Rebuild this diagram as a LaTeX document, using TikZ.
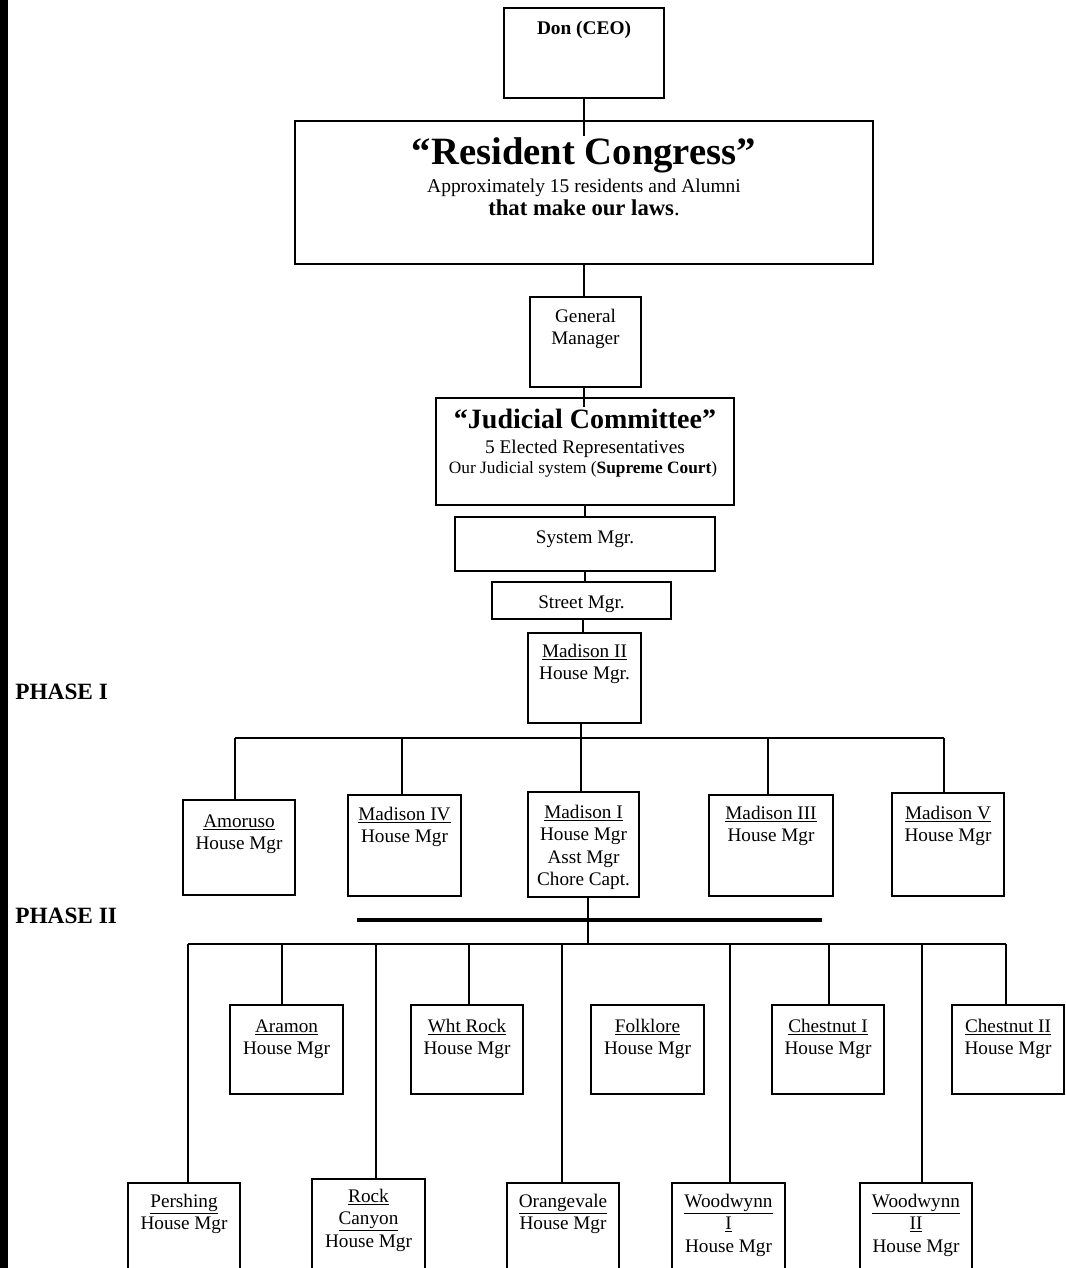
\documentclass[tikz,border=0pt]{standalone}
\usepackage{fontspec}
\setmainfont{Liberation Serif}
\newdimen\pxu \pxu=0.75pt
\newcommand\bx[4]{\parbox[c][#2\pxu][t]{#1\pxu}{\centering\fontsize{14.4pt}{16.9pt}\selectfont\rule{0pt}{#3\pxu}#4}}
\begin{document}
\begin{tikzpicture}[x=0.75pt,y=-0.75pt,
  box/.style={draw, line width=1.1pt, inner sep=0pt, outer sep=0pt, anchor=north west},
  conn/.style={line width=0.8pt},
  thickbar/.style={line width=3pt},
  lbl/.style={inner sep=0pt, anchor=base},
  phase/.style={inner sep=0pt, anchor=base west, font=\fontsize{17.5pt}{20pt}\selectfont\bfseries}]
\useasboundingbox (0,0) rectangle (1065,1268);
\fill[black] (0,0) rectangle (8,1268);

% ---- top chain ----
\node[box, minimum width=120pt, minimum height=67.5pt] (don) at (504,8) {};
\node[lbl, font=\fontsize{14.5pt}{17pt}\selectfont\bfseries] (dont) at (584,34) {Don (CEO)};

\node[box, minimum width=433.5pt, minimum height=107.25pt] (congress) at (295,121) {};
\node[lbl, font=\fontsize{29pt}{33pt}\selectfont\bfseries] (congt) at (584,164) {“Resident Congress”};
\node[lbl, font=\fontsize{14.6pt}{17pt}\selectfont] (congs) at (584,192) {Approximately 15 residents and Alumni};
\node[lbl, font=\fontsize{17pt}{19pt}\selectfont] (congl) at (584,215) {\textbf{that make our laws}.};

\node[box] (gm) at (530,297) {\bx{111}{90}{25}{General\\Manager}};

\node[box, minimum width=223.5pt, minimum height=80.25pt] (judicial) at (436,398) {};
\node[lbl, font=\fontsize{21pt}{25pt}\selectfont\bfseries] (judt) at (585,428) {“Judicial Committee”};
\node[lbl, font=\fontsize{14.5pt}{17pt}\selectfont] (juds) at (585,453) {5 Elected Representatives};
\node[lbl, font=\fontsize{13pt}{15pt}\selectfont] (judl) at (583,473) {Our Judicial system (\textbf{Supreme Court})};

\node[box] (system) at (455,517) {\bx{260}{54}{26}{System Mgr.}};
\node[box] (street) at (492,582) {\bx{179}{37}{26}{Street Mgr.}};
\node[box] (madII) at (528,633) {\bx{113}{90}{24}{\underline{Madison II}\\House Mgr.}};

\node[phase] (ph1) at (15,699) {PHASE I};
\node[phase] (ph2) at (15,923) {PHASE II};

% ---- phase I ----
\node[box] (amoruso) at (183,800) {\bx{112}{95}{27}{\underline{Amoruso}\\House Mgr}};
\node[box] (madIV) at (348,795) {\bx{113}{101}{25}{\underline{Madison IV}\\House Mgr}};
\node[box] (madI) at (528,792) {\bx{111}{105}{26}{\underline{Madison I}\\House Mgr\\Asst Mgr\\Chore Capt.}};
\node[box] (madIII) at (709,795) {\bx{124}{101}{24}{\underline{Madison III}\\House Mgr}};
\node[box] (madV) at (892,793) {\bx{112}{103}{26}{\underline{Madison V}\\House Mgr}};

% ---- phase II upper ----
\node[box] (aramon) at (230,1005) {\bx{113}{89}{27}{\underline{Aramon}\\House Mgr}};
\node[box] (whtrock) at (411,1005) {\bx{112}{89}{27}{\underline{Wht Rock}\\House Mgr}};
\node[box] (folklore) at (591,1005) {\bx{113}{89}{27}{\underline{Folklore}\\House Mgr}};
\node[box] (chestI) at (772,1005) {\bx{112}{89}{27}{\underline{Chestnut I}\\House Mgr}};
\node[box] (chestII) at (952,1005) {\bx{112}{89}{27}{\underline{Chestnut II}\\House Mgr}};

% ---- phase II lower ----
\node[box] (pershing) at (128,1183) {\bx{112}{100}{24}{\underline{Pershing}\\House Mgr}};
\node[box] (rockc) at (312,1179) {\bx{113}{104}{23}{\underline{Rock}\\\underline{Canyon}\\House Mgr}};
\node[box] (orange) at (507,1183) {\bx{112}{100}{24}{\underline{Orangevale}\\House Mgr}};
\node[box] (woodI) at (672,1183) {\bx{113}{100}{24}{\underline{Woodwynn}\\\underline{I}\\House Mgr}};
\node[box] (woodII) at (860,1183) {\bx{112}{100}{24}{\underline{Woodwynn}\\\underline{II}\\House Mgr}};

% ---- connectors top ----
\coordinate (c0) at (584,136);
\coordinate (c1) at (584,407);
\draw[conn] (c0 |- don.south) -- (c0);
\draw[conn] (congress.south) -- (congress.south |- gm.north);
\draw[conn] (c1 |- gm.south) -- (c1);
\draw[conn] (judicial.south) -- (judicial.south |- system.north);
\draw[conn] (system.south) -- (system.south |- street.north);
\coordinate (c2) at (583,620);
\draw[conn] (c2 |- street.south) -- (c2 |- madII.north);

% ---- phase I bus ----
\coordinate (b1l) at (235,738);
\coordinate (b1b) at (402,738);
\coordinate (b1m) at (581,738);
\coordinate (b1c) at (768,738);
\coordinate (b1r) at (944,738);
\draw[conn] (b1m |- madII.south) -- (b1m |- madI.north);
\draw[conn] (b1l) -- (b1r);
\draw[conn] (b1l) -- (b1l |- amoruso.north);
\draw[conn] (b1b) -- (b1b |- madIV.north);
\draw[conn] (b1c) -- (b1c |- madIII.north);
\draw[conn] (b1r) -- (b1r |- madV.north);

% ---- phase II ----
\coordinate (tl) at (357,920);
\coordinate (tr) at (822,920);
\draw[thickbar] (tl) -- (tr);
\coordinate (b2m) at (588,944);
\coordinate (b2l) at (188,944);
\coordinate (b2r) at (1006,944);
\draw[conn] (b2m |- madI.south) -- (b2m);
\draw[conn] (b2l) -- (b2r);
\foreach \x/\n in {188/pershing, 282/aramon, 376/rockc, 469/whtrock, 562/orange, 730/woodI, 829/chestI, 922/woodII, 1006/chestII}{
  \coordinate (d-\n) at (\x,944);
  \draw[conn] (d-\n) -- (d-\n |- \n.north);
}
\end{tikzpicture}
\end{document}
